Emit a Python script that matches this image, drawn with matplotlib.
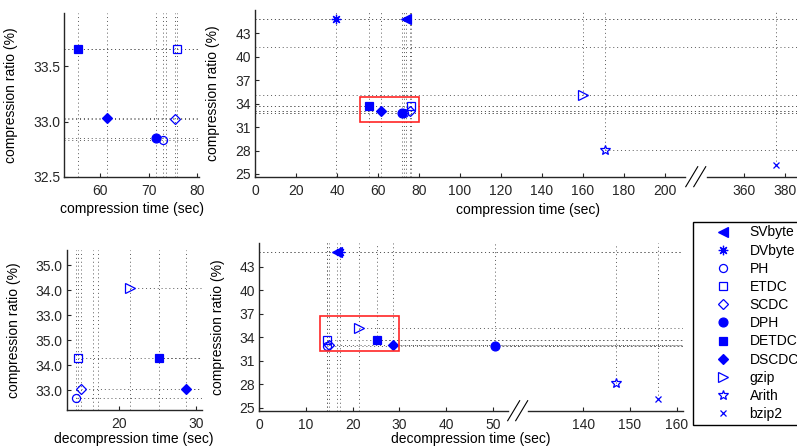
import numpy as np
import matplotlib
matplotlib.use('Agg')
import matplotlib.pyplot as plt
from matplotlib.patches import Rectangle
from matplotlib.lines import Line2D

plt.rcParams['font.family'] = ['Liberation Sans', 'DejaVu Sans']
plt.rcParams['font.size'] = 10

# data
methods = ['SVbyte', 'DVbyte', 'PH', 'ETDC', 'SCDC', 'DPH', 'DETDC', 'DSCDC', 'gzip', 'Arith', 'bzip2']
ratio = [44.9, 44.9, 32.83, 33.66, 33.02, 32.85, 33.66, 33.03, 35.1, 28.1, 26.1]
comp_time = [73.5, 39.5, 72.9, 75.9, 75.4, 71.6, 55.5, 61.5, 160.0, 171.0, 375.5]
decomp_time = [16.6, 17.3, 14.4, 14.6, 15.0, 50.5, 25.2, 28.6, 21.4, 147.0, 156.0]
extra_ratio_lines = [41.2]

comp_ticks = [0, 20, 40, 60, 80, 100, 120, 140, 160, 180, 200, 360, 380]
decomp_ticks = [0, 10, 20, 30, 40, 50, 140, 150, 160]
ratio_ticks = [25, 28, 31, 34, 37, 40, 43]
comp_zoom_xticks = [60, 70, 80]
comp_zoom_yticks = [32.5, 33.0, 33.5]
decomp_zoom_xticks = [20, 30]
decomp_zoom_ylabels = ['33.0', '34.0', '35.0', '33.0', '34.0', '35.0']

# styles
markers = ['<', (8, 2, 0), 'o', 's', 'D', 'o', 's', 'D', '>', '*', 'x']
filled = [True, False, False, False, False, True, True, True, False, False, False]
msizes = [7.2, 6.8, 5.8, 5.3, 4.6, 6.4, 5.7, 5.0, 7.5, 7.8, 4.6]
blue = (0, 0, 1)
axcol = '0.15'
grid_kw = dict(color='0.35', linestyle=(0, (1, 3)), linewidth=0.7, zorder=1)


def make_break(lo, hi, lo_pos):
    k = (lo_pos - lo) / (hi - lo)
    off = hi - lo_pos

    def fwd(x):
        x = np.asarray(x, dtype=float)
        return np.where(x <= lo, x, np.where(x >= hi, x - off, lo + (x - lo) * k))

    def inv(y):
        y = np.asarray(y, dtype=float)
        return np.where(y <= lo, y, np.where(y >= lo_pos, y + off, lo + (y - lo) / k))
    return fwd, inv


def guides(ax, xs, ys, vmode, hmode, names):
    x0, x1 = ax.get_xlim()
    y0, y1 = ax.get_ylim()
    for n, x, y in zip(names, xs, ys):
        v = vmode.get(n, 'full') if isinstance(vmode, dict) else vmode
        h = hmode.get(n, 'full') if isinstance(hmode, dict) else hmode
        if v == 'full':
            ax.plot([x, x], [y0, y1], **grid_kw)
        elif v == 'up':
            ax.plot([x, x], [y, y1], **grid_kw)
        if h == 'full':
            ax.plot([x0, x1], [y, y], **grid_kw)
        elif h == 'right':
            ax.plot([x, x1], [y, y], **grid_kw)


def points(ax, xs, ys):
    hs = []
    for n, x, y, m, f, s in zip(methods, xs, ys, markers, filled, msizes):
        h, = ax.plot([x], [y], linestyle='none', marker=m, ms=s, color=blue,
                     mfc=blue if f else 'none', mec=blue, mew=0.9, label=n, zorder=3)
        hs.append(h)
    return hs


def style(ax):
    for s in ['top', 'right']:
        ax.spines[s].set_visible(False)
    for s in ['left', 'bottom']:
        ax.spines[s].set_color(axcol)
        ax.spines[s].set_linewidth(1.0)
    ax.tick_params(direction='in', length=3, width=0.8, colors=axcol, labelsize=10)
    ax.tick_params(axis='x', pad=5)
    ax.tick_params(axis='y', pad=3)


W, H = 797, 447
fig = plt.figure(figsize=(W / 100, H / 100), dpi=100)


def px_axes(l, r, t, b):
    return fig.add_axes([l / W, 1 - b / H, (r - l) / W, (b - t) / H])


def slash(cx, cy):
    for d in (-4, 4):
        fig.add_artist(Line2D([(cx + d - 6) / W, (cx + d + 6) / W],
                              [1 - (cy + 10) / H, 1 - (cy - 10) / H],
                              transform=fig.transFigure, color='k', lw=0.8))


# top-left: compression zoom
ax1 = px_axes(64.3, 199, 13.3, 177)
ax1.set_xlim(52.6, 80.4)
ax1.set_ylim(32.5, 33.98)
guides(ax1, comp_time, ratio, 'full', 'full', methods)
points(ax1, comp_time, ratio)
ax1.set_xticks(comp_zoom_xticks)
ax1.set_yticks(comp_zoom_yticks)
ax1.set_yticklabels(['%.1f' % v for v in comp_zoom_yticks])
style(ax1)
ax1.set_xlabel('compression time (sec)')
ax1.set_ylabel('compression ratio (%)')
ax1.xaxis.set_label_coords(0.5, -0.155)
ax1.yaxis.set_label_coords(-0.344, 0.5)

# top-right: compression, broken axis
ax2 = px_axes(255, 800, 10, 176.7)
fwd, inv = make_break(209.7, 341.6, 220.3)
ax2.set_xscale('function', functions=(fwd, inv))
ax2.set_xlim(0, float(inv(265.9)))
ax2.set_ylim(24.65, 46)
guides(ax2, comp_time, ratio, {'gzip': 'up', 'Arith': 'up', 'bzip2': 'up'},
       {'Arith': 'right', 'bzip2': 'none'}, methods)
for y in extra_ratio_lines:
    ax2.axhline(y, **grid_kw)
handles = points(ax2, comp_time, ratio)
ax2.add_patch(Rectangle((51, 31.7), 29, 3.2, fill=False, ec=(1, 0.15, 0.15), lw=1.2, zorder=4))
ax2.set_xticks(comp_ticks)
ax2.set_xticklabels([str(t) for t in comp_ticks])
ax2.set_yticks(ratio_ticks)
style(ax2)
ax2.spines['bottom'].set_bounds(0, 209.7)
ax2.plot([341.6, 400], [0, 0], color=axcol, lw=1.0, clip_on=False,
         transform=ax2.get_xaxis_transform())
ax2.set_xlabel('compression time (sec)')
ax2.set_ylabel('compression ratio (%)')
ax2.xaxis.set_label_coords(0.5, -0.155)
ax2.yaxis.set_label_coords(-0.064, 0.5)
slash(255 + 215 * 2.05, 176.7)

# bottom-left: decompression zoom
ax3 = px_axes(66.7, 201.7, 250, 410)
ax3.set_xlim(13.2, 30.7)
ax3.set_ylim(32.587, 35.886)
guides(ax3, decomp_time, ratio, 'full', 'right', methods)
points(ax3, decomp_time, ratio)
ax3.set_xticks(decomp_zoom_xticks)
ax3.set_yticks(32.587 + (0.8 + np.arange(6)) / 1.94)
ax3.set_yticklabels(decomp_zoom_ylabels)
style(ax3)
ax3.set_xlabel('decompression time (sec)')
ax3.set_ylabel('compression ratio (%)')
ax3.xaxis.set_label_coords(0.5, -0.135)
ax3.yaxis.set_label_coords(-0.341, 0.5)

# bottom-right: decompression, broken axis
ax4 = px_axes(259.3, 682.7, 243, 410.7)
fwd2, inv2 = make_break(53.2, 128.1, 57.5)
ax4.set_xscale('function', functions=(fwd2, inv2))
ax4.set_xlim(0, float(inv2(90.7)))
ax4.set_ylim(24.6, 46)
guides(ax4, decomp_time, ratio,
       {'DPH': 'up', 'DETDC': 'up', 'DSCDC': 'up', 'Arith': 'up', 'bzip2': 'up'},
       {'SVbyte': 'full', 'DVbyte': 'full', 'PH': 'right', 'ETDC': 'right', 'SCDC': 'right',
        'DPH': 'right', 'DETDC': 'right', 'DSCDC': 'right', 'gzip': 'right',
        'Arith': 'none', 'bzip2': 'none'}, methods)
points(ax4, decomp_time, ratio)
ax4.add_patch(Rectangle((13.1, 32.2), 16.9, 4.5, fill=False, ec=(1, 0.15, 0.15), lw=1.2, zorder=4))
ax4.set_xticks(decomp_ticks)
ax4.set_xticklabels([str(t) for t in decomp_ticks])
ax4.set_yticks(ratio_ticks)
style(ax4)
ax4.spines['bottom'].set_bounds(0, 53.2)
ax4.plot([128.1, 161.3], [0, 0], color=axcol, lw=1.0, clip_on=False,
         transform=ax4.get_xaxis_transform())
ax4.set_xlabel('decompression time (sec)')
ax4.set_ylabel('compression ratio (%)')
ax4.xaxis.set_label_coords(0.5, -0.125)
ax4.yaxis.set_label_coords(-0.081, 0.5)
slash(259.3 + 55.35 * 4.668, 410.7)

leg = fig.legend(handles, methods, loc='upper left', bbox_to_anchor=(692.7 / W, 1 - 222 / H),
                 frameon=True, fancybox=False, edgecolor='k', framealpha=1, numpoints=1,
                 borderpad=0.25, handlelength=3.8, handletextpad=0.05, labelspacing=0.3,
                 borderaxespad=0, fontsize=10)
leg.get_frame().set_linewidth(1.0)

fig.savefig('out.png', dpi=100)
